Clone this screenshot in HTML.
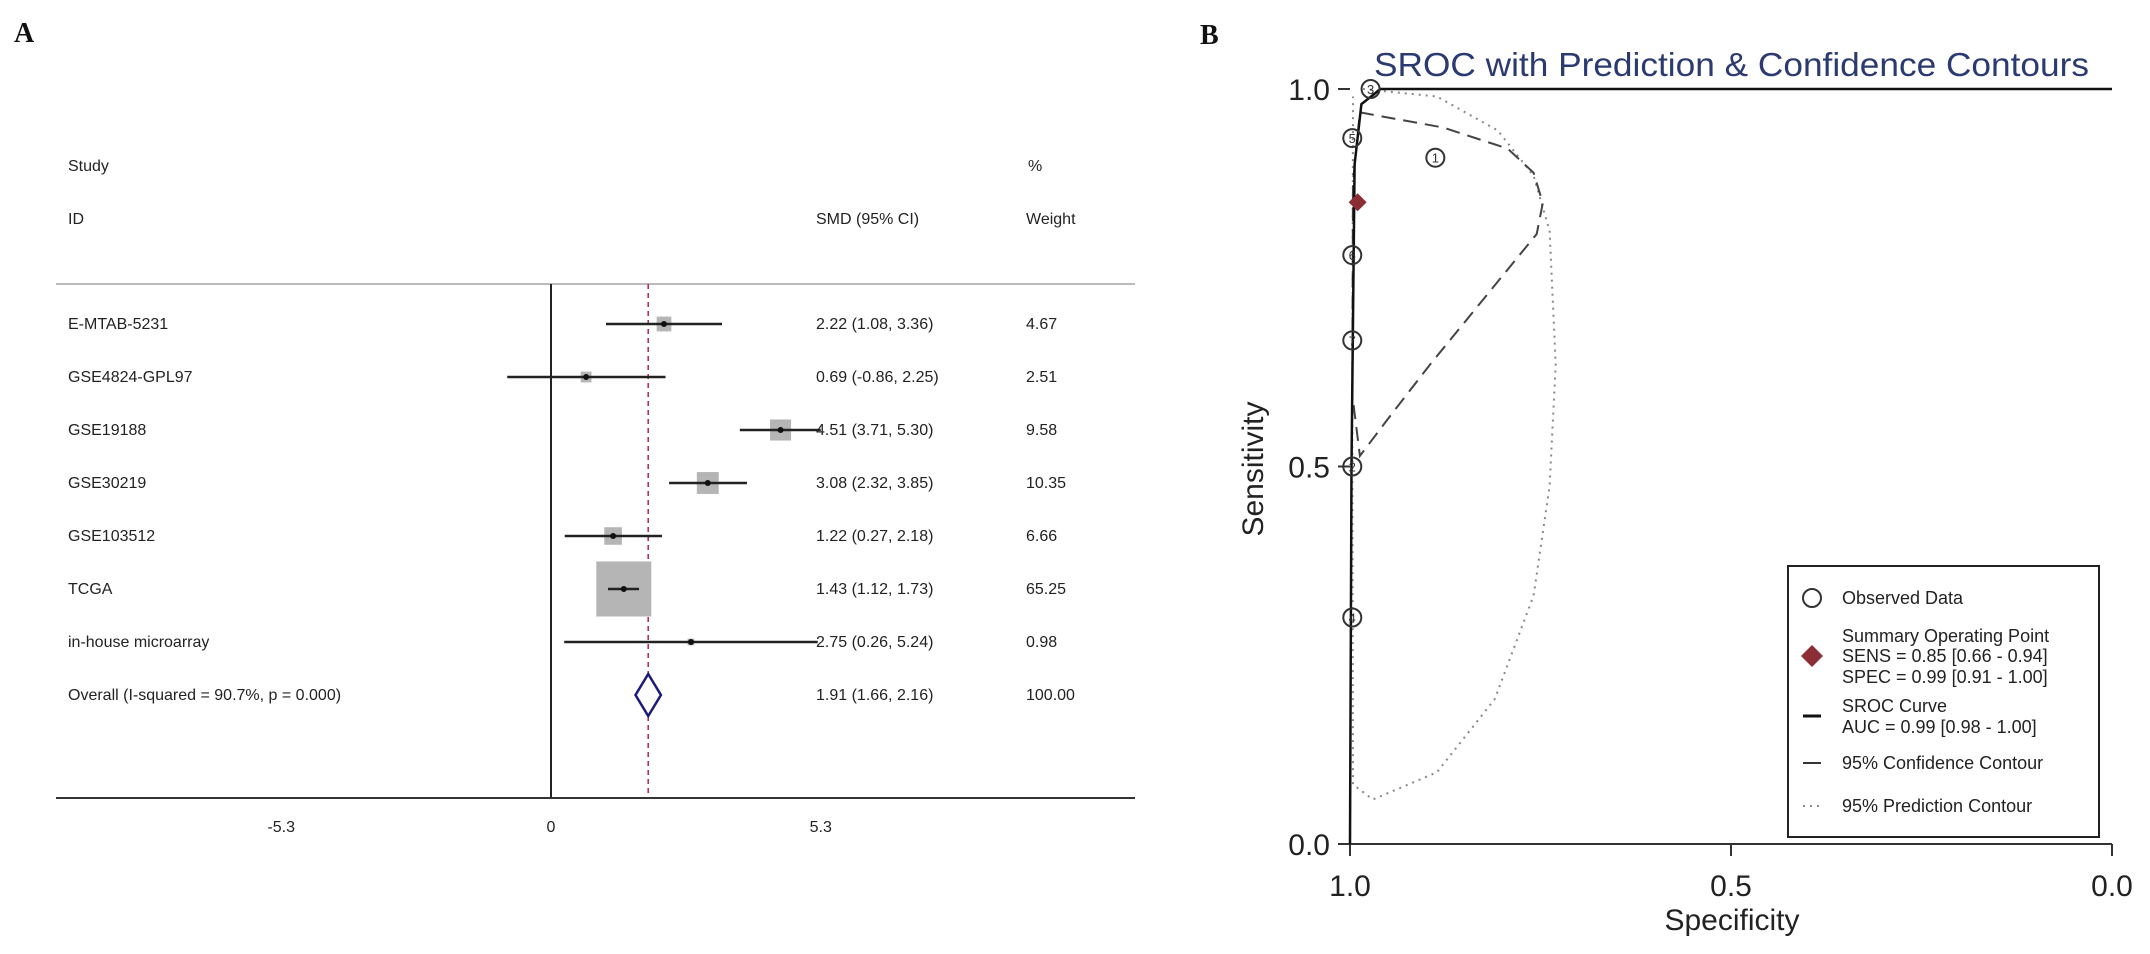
<!DOCTYPE html>
<html><head><meta charset="utf-8"><style>
html,body{margin:0;padding:0;background:#fff;}
svg{display:block;font-family:"Liberation Sans",Arial,sans-serif;}
</style></head><body>
<svg id="fig" width="2150" height="954" viewBox="0 0 2150 954">
<g id="panelA"></g>
<g id="panelB"></g>
</svg>
<script>
// ---- Panel A data ----
const studies = ["E-MTAB-5231","GSE4824-GPL97","GSE19188","GSE30219","GSE103512","TCGA","in-house microarray"];
const smd = [2.22,0.69,4.51,3.08,1.22,1.43,2.75];
const ciLow = [1.08,-0.86,3.71,2.32,0.27,1.12,0.26];
const ciHigh = [3.36,2.25,5.30,3.85,2.18,1.73,5.24];
const weights = [4.67,2.51,9.58,10.35,6.66,65.25,0.98];
const overall = [1.91,1.66,2.16];
const overallLabel = "Overall  (I-squared = 90.7%, p = 0.000)";
const xTicksA = [-5.3,0,5.3];
// ---- Panel B data ----
const obsSpec = [0.973,0.997,0.997,0.997,0.997,0.997,0.888];
const obsSens = [1.0,0.935,0.78,0.667,0.5,0.30,0.909];
const obsLabel = ["3","5","6","7","2","4","1"];
const summarySpec = 0.99, summarySens = 0.85;
const srocSpec = [1.0,0.998,0.994,0.985,0.96,0.0];
const srocSens = [0.0,0.5,0.9,0.98,1.0,1.0];
const confSpec = [0.987,0.878,0.793,0.759,0.747,0.755,0.810,0.895,0.945,0.987,0.997,0.996,0.987];
const confSens = [0.969,0.949,0.921,0.889,0.849,0.808,0.740,0.635,0.570,0.514,0.595,0.877,0.969];
const predSpec = [0.983,0.886,0.806,0.759,0.738,0.730,0.738,0.759,0.810,0.886,0.970,0.996,0.997,0.996];
const predSens = [1.0,0.990,0.945,0.885,0.812,0.635,0.474,0.329,0.192,0.095,0.059,0.079,0.554,0.99];
const ticksB = [0.0,0.5,1.0];

const NS="http://www.w3.org/2000/svg";
function mk(parent,tag,attrs,text){const e=document.createElementNS(NS,tag);for(const k in attrs)e.setAttribute(k,attrs[k]);if(text!==undefined)e.textContent=text;parent.appendChild(e);return e;}

// ===== Panel A =====
const A=document.getElementById('panelA');
const xA=v=>551+v*50.9;
const rowY=i=>324+i*53;
const CIX=816, WX=1026, FS=16;
let t;
t=mk(A,'text',{x:14,y:42,'font-family':'Liberation Serif,serif','font-weight':'bold','font-size':28,fill:'#111'},'A');


const hdrs=[[68,171,'Study'],[68,224,'ID'],[CIX,224,'SMD (95% CI)'],[WX+2,171,'%'],[WX,224,'Weight']];
hdrs.forEach(h=>{const e=mk(A,'text',{x:h[0],y:h[1],'font-size':FS,fill:'#222'},h[2]);

});
let l=mk(A,'line',{x1:56,x2:1135,y1:284,y2:284,stroke:'#bbb','stroke-width':2});


l=mk(A,'line',{x1:xA(0),x2:xA(0),y1:284,y2:798,stroke:'#222','stroke-width':2});


l=mk(A,'line',{x1:xA(overall[0]),x2:xA(overall[0]),y1:284,y2:798,stroke:'#b03050','stroke-width':1.6,'stroke-dasharray':'5,4'});


l=mk(A,'line',{x1:56,x2:1135,y1:798,y2:798,stroke:'#333','stroke-width':2});


xTicksA.forEach(v=>{const e=mk(A,'text',{x:xA(v),y:832,'font-size':FS,'text-anchor':'middle',fill:'#222'},String(v));

});
studies.forEach((s,i)=>{
  const y=rowY(i);
  const e=mk(A,'text',{x:68,y:y+5,'font-size':FS,fill:'#222'},s);
  
  
  const side=55*Math.sqrt(weights[i]/65.25);
  const r=mk(A,'rect',{x:xA(smd[i])-side/2,y:y-side/2,width:side,height:side,fill:'#b5b5b5'});
  
  
  const c=mk(A,'line',{x1:xA(ciLow[i]),x2:xA(ciHigh[i]),y1:y,y2:y,stroke:'#222','stroke-width':2.5});
  
  
  const d=mk(A,'circle',{cx:xA(smd[i]),cy:y,r:3,fill:'#111'});
  
  
  const ci=mk(A,'text',{x:CIX,y:y+5,'font-size':FS,fill:'#222'},smd[i].toFixed(2)+" ("+ciLow[i].toFixed(2)+", "+ciHigh[i].toFixed(2)+")");
  
  
  const w=mk(A,'text',{x:WX,y:y+5,'font-size':FS,fill:'#222'},weights[i].toFixed(2));
  
  
});
{
  const y=rowY(7);
  const e=mk(A,'text',{x:68,y:y+5,'font-size':FS,fill:'#222'},overallLabel);
  
  
  const dm=mk(A,'polygon',{points:`${xA(overall[1])},${y} ${xA(overall[0])},${y-21} ${xA(overall[2])},${y} ${xA(overall[0])},${y+21}`,fill:'#fff',stroke:'#1a1a7a','stroke-width':2.5});
  
  
  const ci=mk(A,'text',{x:CIX,y:y+5,'font-size':FS,fill:'#222'},overall[0].toFixed(2)+" ("+overall[1].toFixed(2)+", "+overall[2].toFixed(2)+")");
  
  
  const w=mk(A,'text',{x:WX,y:y+5,'font-size':FS,fill:'#222'},'100.00');
  
  
}

// ===== Panel B =====
const B=document.getElementById('panelB');
const sx=s=>1350+(1-s)*762;
const sy=v=>844-v*755;
t=mk(B,'text',{x:1200,y:44,'font-family':'Liberation Serif,serif','font-weight':'bold','font-size':28,fill:'#111'},'B');


t=mk(B,'text',{x:1374,y:76,'font-size':33,fill:'#2b3a70',textLength:715,lengthAdjust:'spacingAndGlyphs'},'SROC with Prediction & Confidence Contours');


l=mk(B,'line',{x1:1340,x2:2112,y1:844,y2:844,stroke:'#333','stroke-width':2});


ticksB.forEach(v=>{
  const tk=mk(B,'line',{x1:sx(v),x2:sx(v),y1:844,y2:856,stroke:'#333','stroke-width':2});
  
  
  const lb=mk(B,'text',{x:sx(v),y:896,'font-size':30,'text-anchor':'middle',fill:'#222'},v.toFixed(1));
  
  
  const ty=mk(B,'line',{x1:1338,x2:1350,y1:sy(v),y2:sy(v),stroke:'#333','stroke-width':2});
  
  
  const ly=mk(B,'text',{x:1330,y:sy(v)+11,'font-size':30,'text-anchor':'end',fill:'#222'},v.toFixed(1));
  
  
});
t=mk(B,'text',{x:1732,y:930,'font-size':30,'text-anchor':'middle',fill:'#222'},'Specificity');


t=mk(B,'text',{x:1263,y:469,'font-size':30,'text-anchor':'middle',fill:'#222',transform:'rotate(-90 1263 469)'},'Sensitivity');


function path(xs,ys){return xs.map((s,i)=>(i?'L':'M')+sx(s).toFixed(1)+','+sy(ys[i]).toFixed(1)).join(' ');}
let p=mk(B,'path',{d:path(predSpec,predSens),fill:'none',stroke:'#888','stroke-width':2,'stroke-dasharray':'2,5'});


p=mk(B,'path',{d:path(confSpec,confSens),fill:'none',stroke:'#444','stroke-width':2,'stroke-dasharray':'14,8'});


p=mk(B,'path',{d:path(srocSpec,srocSens),fill:'none',stroke:'#111','stroke-width':2.5});


obsSpec.forEach((s,i)=>{
  const c=mk(B,'circle',{cx:sx(s),cy:sy(obsSens[i]),r:9,fill:'none',stroke:'#333','stroke-width':2});
  
  
  const n=mk(B,'text',{x:sx(s),y:sy(obsSens[i])+5,'font-size':13,'text-anchor':'middle',fill:'#333'},obsLabel[i]);
  
  
});
{
  const cx=sx(summarySpec),cy=sy(summarySens);
  const d=mk(B,'polygon',{points:`${cx-9},${cy} ${cx},${cy-9} ${cx+9},${cy} ${cx},${cy+9}`,fill:'#8b2d35'});
  
  
}
// legend
const lg=mk(B,'g',{});


mk(lg,'rect',{x:1788,y:566,width:311,height:271,fill:'#fff',stroke:'#222','stroke-width':2});
const c0=mk(lg,'circle',{cx:1812,cy:598,r:9,fill:'none',stroke:'#333','stroke-width':2});


const d0=mk(lg,'polygon',{points:'1801,656 1812,645 1823,656 1812,667',fill:'#8b2d35'});


mk(lg,'line',{x1:1803,x2:1821,y1:716,y2:716,stroke:'#111','stroke-width':3});
mk(lg,'line',{x1:1803,x2:1821,y1:763,y2:763,stroke:'#333','stroke-width':2});
mk(lg,'line',{x1:1803,x2:1821,y1:806,y2:806,stroke:'#888','stroke-width':2,'stroke-dasharray':'2,5'});
const lt=[[604,'Observed Data'],[642,'Summary Operating Point'],[662,'SENS = 0.85 [0.66 - 0.94]'],[683,'SPEC = 0.99 [0.91 - 1.00]'],[712,'SROC Curve'],[733,'AUC = 0.99 [0.98 - 1.00]'],[769,'95% Confidence Contour'],[812,'95% Prediction Contour']];
lt.forEach(r=>{const e=mk(lg,'text',{x:1842,y:r[0],'font-size':18,fill:'#222'},r[1]);

});
</script>
</body></html>
